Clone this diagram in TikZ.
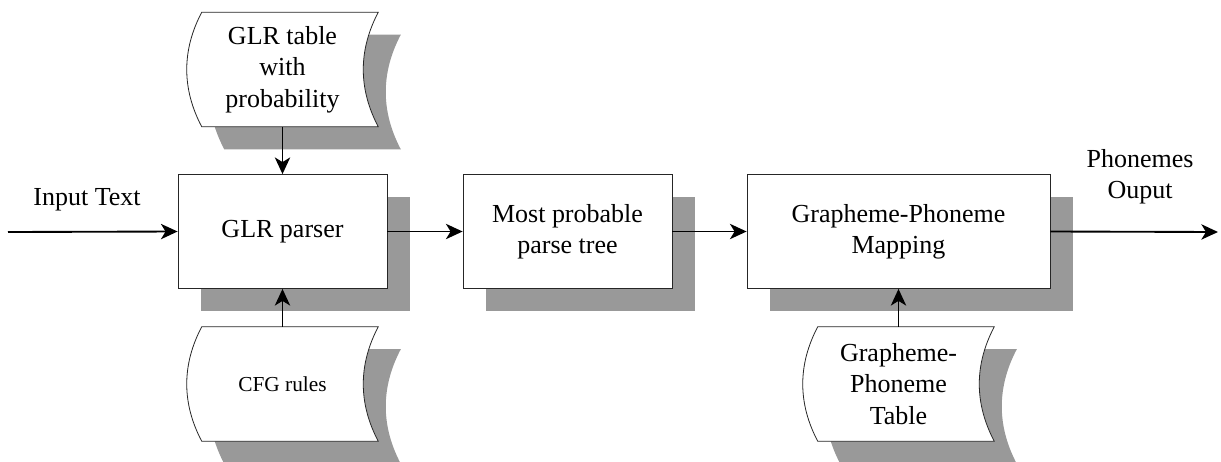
\documentclass[tikz,border=0pt]{standalone}
\usepackage{fontspec}
\setmainfont{Liberation Serif}
\newfontfamily\tnr{Liberation Serif}
\usetikzlibrary{arrows.meta,shadows,calc}
\definecolor{shgray}{HTML}{999999}
\pgfdeclarelayer{bg}
\pgfsetlayers{bg,main}
\newcommand\stpath[1]{($(#1.north west)+(15,0)$) .. controls ($(#1.north west)+(-5,38)$) and ($(#1.south west)+(-5,-38)$) .. ($(#1.south west)+(15,0)$) -- (#1.south east) .. controls ($(#1.south east)+(-20,-38)$) and ($(#1.north east)+(-20,38)$) .. (#1.north east) -- cycle}
\begin{document}
\begin{tikzpicture}[x=0.75pt,y=-0.75pt,
  txt/.style={font=\tnr\fontsize{19.5}{23.5}\selectfont, align=center},
  procbox/.style={txt, draw=black!85, line width=0.6pt, fill=white, inner sep=0pt, minimum height=85.5pt,
    drop shadow={shadow xshift=16.9pt, shadow yshift=-16.9pt, fill=shgray, opacity=1}},
  stored/.style={txt, inner sep=0pt, minimum width=143.25pt, minimum height=85.5pt},
  flow/.style={line width=1.4pt, -{Stealth[length=12.5pt,width=11.5pt,inset=3.5pt]}},
  stshape/.style={draw=black!85, line width=0.6pt, fill=white},
  stshadow/.style={fill=shgray, transform canvas={shift={(22.5,22.5)}}}
]
\useasboundingbox (0,0) rectangle (1221,461);
\node[procbox, minimum width=156.75pt] (glrp) at (282.5,231.5) {GLR parser};
\node[procbox, minimum width=156.75pt] (mppt) at (567.5,231.5) {Most probable\\parse tree};
\node[procbox, minimum width=227.25pt] (gpm) at (898.5,231.5) {Grapheme-Phoneme\\Mapping};
\node[stored] (glrt) at (282.5,69.5) {GLR table\\with\\probability};
\node[stored, font=\tnr\fontsize{16}{19}\selectfont] (cfg) at (282.5,384) {CFG rules};
\node[stored] (gpt) at (898.5,384) {Grapheme-\\Phoneme\\Table};
\begin{pgfonlayer}{bg}
\foreach \n in {glrt,cfg,gpt}{
  \path[stshadow] \stpath{\n};
  \path[stshape] \stpath{\n};
}
\end{pgfonlayer}
\node[txt, anchor=base] (intext) at (87,205.5) {Input Text};
\node[txt] (phout) at (1140,177) {Phonemes\\Ouput};
\coordinate (inp) at (8,232);
\coordinate (outp) at (1218,232);
\draw[flow] (inp) -- (glrp.west);
\draw[flow] (glrp.east) -- (mppt.west);
\draw[flow] (mppt.east) -- (gpm.west);
\draw[flow] (gpm.east) -- (outp);
\draw[flow] (glrt.south) -- (glrp.north);
\draw[flow] (cfg.north) -- (glrp.south);
\draw[flow] (gpt.north) -- (gpm.south);
\end{tikzpicture}
\end{document}
